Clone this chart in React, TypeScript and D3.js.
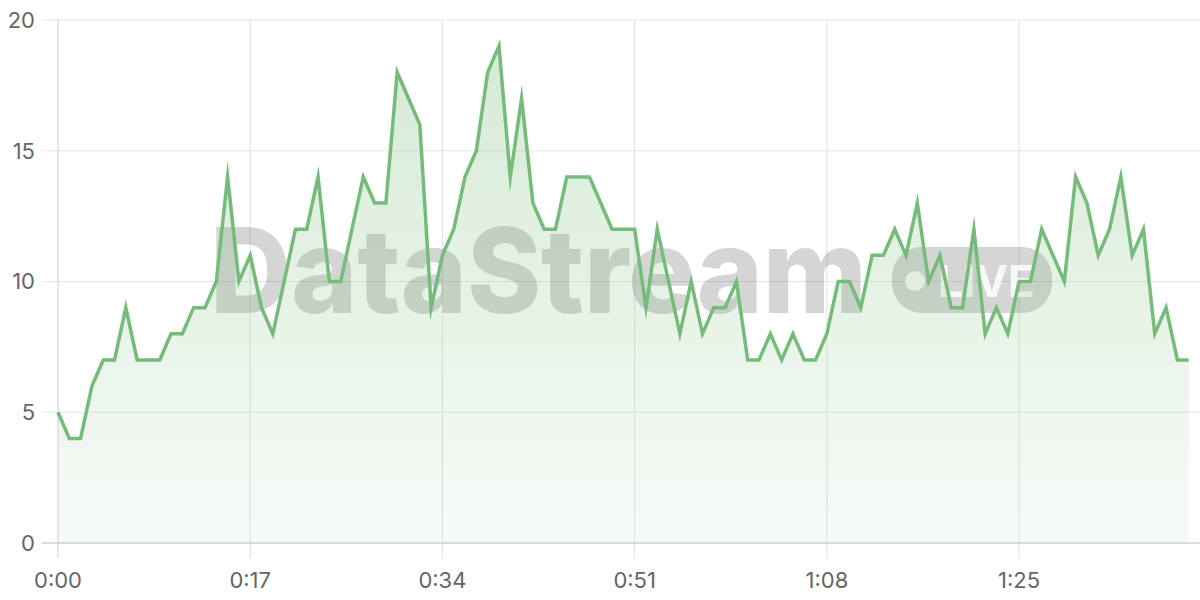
import React, { useEffect, useRef } from "react";
import * as d3 from "d3";

// one reading per second, 0:00 .. 1:40
const values = [
  5, 4, 4, 6, 7, 7, 9, 7, 7, 7, 8, 8, 9, 9, 10, 14, 10, 11, 9, 8,
  10, 12, 12, 14, 10, 10, 12, 14, 13, 13, 18, 17, 16, 9, 11, 12, 14, 15, 18, 19,
  14, 17, 13, 12, 12, 14, 14, 14, 13, 12, 12, 12, 9, 12, 10, 8, 10, 8, 9, 9,
  10, 7, 7, 8, 7, 8, 7, 7, 8, 10, 10, 9, 11, 11, 12, 11, 13, 10, 11, 9,
  9, 12, 8, 9, 8, 10, 10, 12, 11, 10, 14, 13, 11, 12, 14, 11, 12, 8, 9, 7,
  7,
];
const seconds = values.map((_, i) => i);
const xTicks = [0, 17, 34, 51, 68, 85];
const yTicks = [0, 5, 10, 15, 20];

const lineColor = "#77bb7a";

function fmtTime(s: number) {
  const m = Math.floor(s / 60);
  const r = s % 60;
  return `${m}:${String(r).padStart(2, "0")}`;
}

export default function App() {
  const ref = useRef<SVGSVGElement>(null);

  useEffect(() => {
    if (!ref.current) return;
    const root = d3.select(ref.current);
    root.selectAll("*").remove();

    const W = 1200;
    const H = 600;
    const left = 58;
    const right = 1200;
    const top = 20;
    const bottom = 543;

    const x = d3.scaleLinear().domain([0, 101]).range([left, right]);
    const y = d3.scaleLinear().domain([0, 20]).range([bottom, top]);

    root.attr("width", W).attr("height", H);

    const defs = root.append("defs");
    const grad = defs
      .append("linearGradient")
      .attr("id", "areaFill")
      .attr("gradientUnits", "userSpaceOnUse")
      .attr("x1", 0)
      .attr("x2", 0)
      .attr("y1", top)
      .attr("y2", bottom);
    grad.append("stop").attr("offset", "0%").attr("stop-color", lineColor).attr("stop-opacity", 0.32);
    grad.append("stop").attr("offset", "100%").attr("stop-color", lineColor).attr("stop-opacity", 0.06);

    // horizontal grid
    root
      .append("g")
      .selectAll("line")
      .data(yTicks.filter((t) => t !== 0))
      .enter()
      .append("line")
      .attr("x1", left - 16)
      .attr("x2", right)
      .attr("y1", (d) => y(d))
      .attr("y2", (d) => y(d))
      .attr("stroke", "#e6e6e6")
      .attr("stroke-width", 1.2);

    // vertical grid
    root
      .append("g")
      .selectAll("line")
      .data(xTicks)
      .enter()
      .append("line")
      .attr("x1", (d) => x(d))
      .attr("x2", (d) => x(d))
      .attr("y1", top)
      .attr("y2", bottom + 15)
      .attr("stroke", (d) => (d === 0 ? "#d6d6d6" : "#e6e6e6"))
      .attr("stroke-width", 1.2);

    // watermark
    const wm = root.append("g").attr("opacity", 0.16);
    wm.append("text")
      .attr("x", 210)
      .attr("y", 313)
      .attr("font-family", "Inter, 'Noto Sans', sans-serif")
      .attr("font-weight", 800)
      .attr("font-size", 118)
      .attr("textLength", 657)
      .attr("lengthAdjust", "spacingAndGlyphs")
      .attr("fill", "#000")
      .text("DataStream");
    wm.append("rect")
      .attr("x", 892)
      .attr("y", 247)
      .attr("width", 160)
      .attr("height", 66)
      .attr("rx", 30)
      .attr("fill", "#000");

    const live = root.append("g");
    live
      .append("circle")
      .attr("cx", 915)
      .attr("cy", 281)
      .attr("r", 10)
      .attr("fill", "#fff")
      .attr("opacity", 0.85);
    live
      .append("text")
      .attr("x", 938)
      .attr("y", 297)
      .attr("font-family", "Inter, 'Noto Sans', sans-serif")
      .attr("font-weight", 700)
      .attr("font-size", 44)
      .attr("fill", "#fff")
      .attr("opacity", 0.85)
      .text("LIVE");

    // area + line
    const area = d3
      .area<number>()
      .x((_, i) => x(seconds[i]))
      .y0(y(0))
      .y1((d) => y(d));
    const line = d3
      .line<number>()
      .x((_, i) => x(seconds[i]))
      .y((d) => y(d));

    root.append("path").datum(values).attr("d", area).attr("fill", "url(#areaFill)");

    // baseline
    root
      .append("line")
      .attr("x1", left - 16)
      .attr("x2", right)
      .attr("y1", y(0))
      .attr("y2", y(0))
      .attr("stroke", "#d0d0d0")
      .attr("stroke-width", 1.5);

    root
      .append("path")
      .datum(values)
      .attr("d", line)
      .attr("fill", "none")
      .attr("stroke", lineColor)
      .attr("stroke-width", 3.5)
      .attr("stroke-linejoin", "miter")
      .attr("stroke-miterlimit", 20);

    // labels
    root
      .append("g")
      .selectAll("text")
      .data(yTicks)
      .enter()
      .append("text")
      .attr("x", 35)
      .attr("y", (d) => y(d))
      .attr("dy", "0.36em")
      .attr("text-anchor", "end")
      .attr("font-family", "Inter, 'Noto Sans', sans-serif")
      .attr("font-size", 22)
      .attr("fill", "#666")
      .text((d) => String(d));

    root
      .append("g")
      .selectAll("text")
      .data(xTicks)
      .enter()
      .append("text")
      .attr("x", (d) => x(d))
      .attr("y", 588)
      .attr("text-anchor", "middle")
      .attr("font-family", "Inter, 'Noto Sans', sans-serif")
      .attr("font-size", 22)
      .attr("fill", "#666")
      .text((d) => fmtTime(d));
  }, []);

  return (
    <svg
      ref={ref}
      style={{ position: "absolute", left: 0, top: 0, background: "#fff" }}
    />
  );
}
